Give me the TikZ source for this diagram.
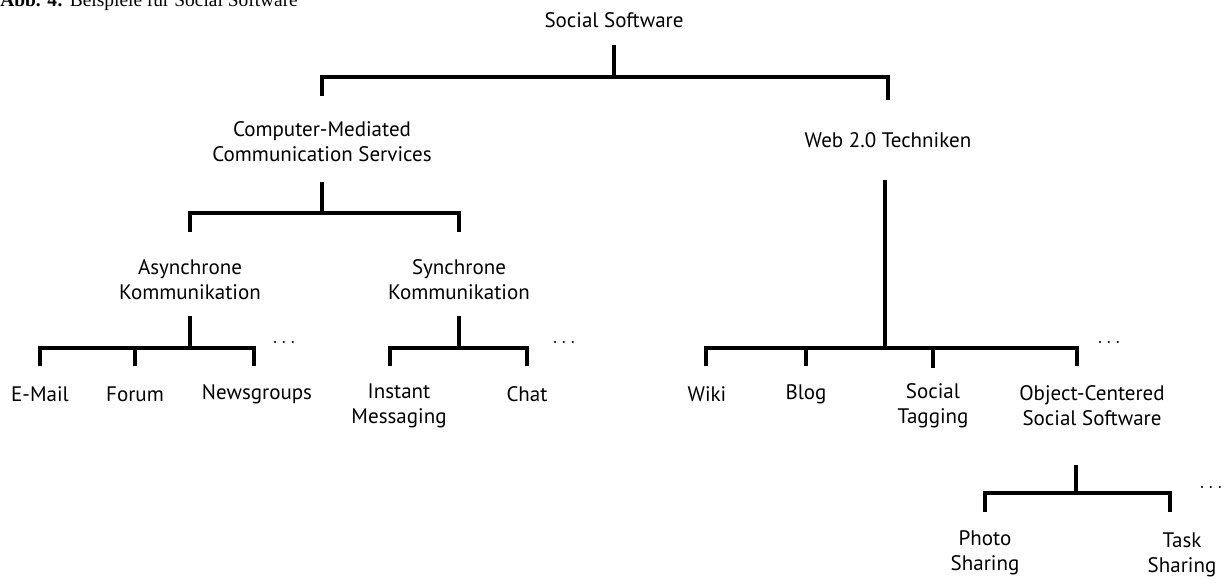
\documentclass[tikz,border=0pt]{standalone}
\usepackage{fontspec}
\setmainfont{Liberation Serif}
\newfontfamily\diagfont{PT Sans}
\usetikzlibrary{calc}

\tikzset{
  lbl/.style={align=center,inner sep=0pt,font=\diagfont\fontsize{10.5}{12.5}\selectfont},
  bar/.style={line width=1.9pt,line join=miter},
  more/.style={inner sep=0pt,font=\normalsize}
}

\begin{document}
\begin{tikzpicture}[x=0.5pt,y=-0.5pt]
  \useasboundingbox (0,0) rectangle (1229,583);
  % caption (cut off at the top)
  \node[anchor=base west,inner sep=0pt,font=\fontsize{9.7}{11}\selectfont] (cap) at (0,7) {\textbf{Abb. 4:} Beispiele für Social Software};

  % root
  \node[lbl] (root) at (614,20) {Social Software};
  \coordinate (rootS) at (614,45);
  \coordinate (rootJ) at (614,77);
  \node[lbl] (cmc) at (322,142) {Computer-Mediated\\Communication Services};
  \coordinate (cmcT) at (322,96);
  \node[lbl] (web) at (888,140) {Web 2.0 Techniken};
  \coordinate (webT) at (888,100);
  \draw[bar] (rootS) -- (rootJ);
  \draw[bar] (cmcT) |- (rootJ) -| (webT);

  % computer-mediated communication
  \coordinate (cmcS) at (322,182);
  \coordinate (cmcJ) at (322,213);
  \node[lbl] (async) at (190,280) {Asynchrone\\Kommunikation};
  \coordinate (asyncT) at (190,232);
  \node[lbl] (sync) at (459,280) {Synchrone\\Kommunikation};
  \coordinate (syncT) at (459,232);
  \draw[bar] (cmcS) -- (cmcJ);
  \draw[bar] (asyncT) |- (cmcJ) -| (syncT);

  % asynchronous
  \coordinate (asyncS) at (190,316);
  \coordinate (asyncJ) at (190,348);
  \node[lbl] (mail) at (40,394) {E-Mail};
  \coordinate (mailT) at (40,366);
  \node[lbl] (forum) at (135,394) {Forum};
  \coordinate (forumT) at (135,366);
  \node[lbl] (news) at (257,394) {Newsgroups};
  \coordinate (newsT) at (254,366);
  \draw[bar] (asyncS) -- (asyncJ);
  \draw[bar] (mailT) |- (asyncJ) -| (newsT);
  \draw[bar] (forumT) -- (forumT |- asyncJ);
  \node[more] (asyncM) at (284,343) {$\cdots$};

  % synchronous
  \coordinate (syncS) at (459,316);
  \coordinate (syncJ) at (459,348);
  \node[lbl] (im) at (399,406) {Instant\\Messaging};
  \coordinate (imT) at (390,366);
  \node[lbl] (chat) at (527,394) {Chat};
  \coordinate (chatT) at (527,366);
  \draw[bar] (syncS) -- (syncJ);
  \draw[bar] (imT) |- (syncJ) -| (chatT);
  \node[more] (syncM) at (564,343) {$\cdots$};

  % web 2.0
  \coordinate (webS) at (885,180);
  \coordinate (webJ) at (885,348);
  \node[lbl] (wiki) at (707,394) {Wiki};
  \coordinate (wikiT) at (706,366);
  \node[lbl] (blog) at (806,394) {Blog};
  \coordinate (blogT) at (806,366);
  \node[lbl] (tag) at (933,406) {Social\\Tagging};
  \coordinate (tagT) at (933,368);
  \node[lbl] (occ) at (1092,406) {Object-Centered\\Social Software};
  \coordinate (occT) at (1077,366);
  \draw[bar] (webS) -- (webJ);
  \draw[bar] (wikiT) |- (webJ) -| (occT);
  \draw[bar] (blogT) -- (blogT |- webJ);
  \draw[bar] (tagT) -- (tagT |- webJ);
  \node[more] (webM) at (1109,343) {$\cdots$};

  % object-centered
  \coordinate (occS) at (1076,465);
  \coordinate (occJ) at (1076,493);
  \node[lbl] (photo) at (985,553) {Photo\\Sharing};
  \coordinate (photoT) at (985,512);
  \node[lbl] (task) at (1182,555) {Task\\Sharing};
  \coordinate (taskT) at (1170,512);
  \draw[bar] (occS) -- (occJ);
  \draw[bar] (photoT) |- (occJ) -| (taskT);
  \node[more] (occM) at (1211,488) {$\cdots$};
\end{tikzpicture}
\end{document}
